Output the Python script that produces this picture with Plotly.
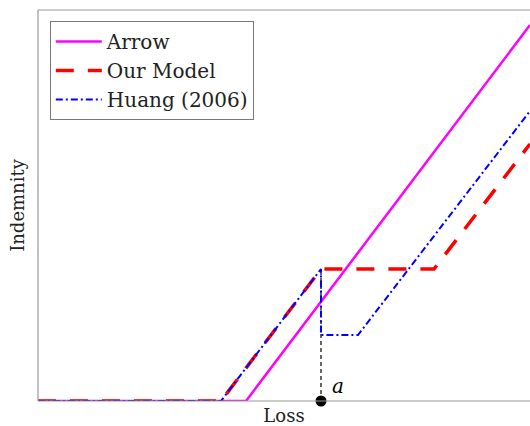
import plotly.graph_objects as go

# Data (loss vs indemnity, arbitrary units)
arrow_x = [0, 208, 492]
arrow_y = [0, 0, 376]
model_x = [0, 183, 283, 396, 492]
model_y = [0, 0, 132, 132, 257]
huang_x = [0, 183, 283, 283, 320, 492]
huang_y = [0, 0, 132, 66, 66, 290]
a_x = 283
a_top = 132

FONT = "DejaVu Serif"

fig = go.Figure()
fig.add_trace(go.Scatter(x=[a_x, a_x], y=[0, a_top], mode="lines",
                         line=dict(color="black", width=1.2, dash="4px,3px"),
                         showlegend=False, hoverinfo="skip"))
fig.add_trace(go.Scatter(x=arrow_x, y=arrow_y, mode="lines", name="Arrow",
                         line=dict(color="#ff00ff", width=2.5)))
fig.add_trace(go.Scatter(x=model_x, y=model_y, mode="lines", name="Our Model",
                         line=dict(color="#ff0000", width=3.5, dash="18px,14px")))
fig.add_trace(go.Scatter(x=huang_x, y=huang_y, mode="lines", name="Huang (2006)",
                         line=dict(color="#0000ff", width=2, dash="7px,3px,2px,3px")))
fig.add_trace(go.Scatter(x=[a_x], y=[0], mode="markers",
                         marker=dict(color="black", size=11),
                         showlegend=False, hoverinfo="skip", cliponaxis=False))
fig.add_annotation(x=a_x, y=0, text="<i>a</i>", showarrow=False,
                   xshift=17, yshift=15, font=dict(family=FONT, size=20, color="black"))

frame = dict(color="#999999", width=1.2)
fig.add_shape(type="line", xref="paper", yref="paper", x0=0, x1=0, y0=0, y1=1, line=frame)
fig.add_shape(type="line", xref="paper", yref="paper", x0=0, x1=1, y0=1, y1=1, line=frame)
fig.add_shape(type="line", xref="paper", yref="paper", x0=0, x1=1, y0=0, y1=0, line=frame)

fig.update_layout(
    width=530, height=426,
    margin=dict(l=38, r=0, t=10, b=25),
    plot_bgcolor="white", paper_bgcolor="white",
    font=dict(family=FONT, size=20, color="#222222"),
    xaxis=dict(range=[0, 492], showgrid=False, zeroline=False, showticklabels=False,
               ticks="", title=dict(text="Loss", font=dict(size=18), standoff=9)),
    yaxis=dict(range=[0, 391], showgrid=False, zeroline=False, showticklabels=False,
               ticks="", title=dict(text="Indemnity", font=dict(size=18), standoff=7)),
    legend=dict(x=0.024, y=0.972, xanchor="left", yanchor="top",
                bgcolor="white", bordercolor="#777777", borderwidth=1,
                itemwidth=46, tracegroupgap=0,
                font=dict(family=FONT, size=20, color="#222222")),
)

fig.write_html("out.html", config={"displayModeBar": False},
               post_script="document.body.style.margin='0';document.body.style.overflow='hidden';")
